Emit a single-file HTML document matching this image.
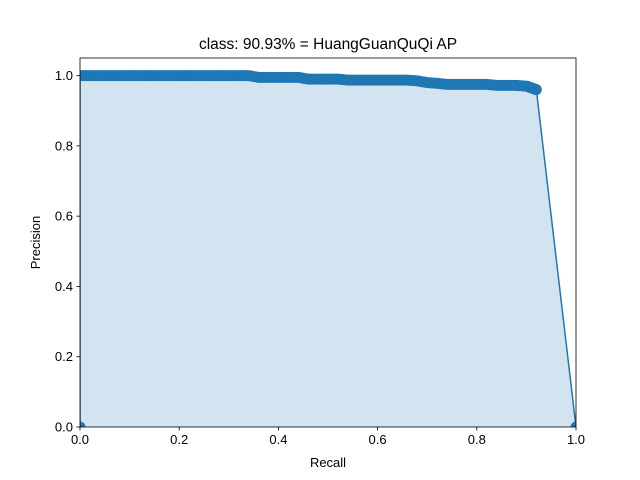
<!DOCTYPE html>
<html><head><meta charset="utf-8"><style>
body{margin:0;background:#fff;}
svg{display:block;font-family:"Liberation Sans","DejaVu Sans",sans-serif;}
</style></head><body>
<svg id="chart" width="640" height="480">
<defs><clipPath id="plotclip"><rect x="80" y="58" width="496" height="369"/></clipPath></defs>
<g id="plot" clip-path="url(#plotclip)"></g>
</svg>
<script>
const recall=[0,0,0.02,0.04,0.06,0.08,0.10,0.12,0.14,0.16,0.18,0.20,0.22,0.24,0.26,0.28,0.30,0.32,0.34,0.36,0.38,0.40,0.42,0.44,0.46,0.48,0.50,0.52,0.54,0.56,0.58,0.60,0.62,0.64,0.66,0.68,0.70,0.72,0.74,0.76,0.78,0.80,0.82,0.84,0.86,0.88,0.90,0.91,0.92,1.0];
const precision=[0,1,1,1,1,1,1,1,1,1,1,1,1,1,1,1,1,1,1,0.995,0.995,0.995,0.995,0.995,0.99,0.99,0.99,0.99,0.987,0.987,0.987,0.987,0.987,0.987,0.987,0.985,0.98,0.978,0.975,0.975,0.975,0.975,0.975,0.972,0.972,0.972,0.97,0.965,0.96,0];
const xTicks=[0,0.2,0.4,0.6,0.8,1.0];
const xTickLabels=["0.0","0.2","0.4","0.6","0.8","1.0"];
const yTicks=[0,0.2,0.4,0.6,0.8,1.0];
const yTickLabels=["0.0","0.2","0.4","0.6","0.8","1.0"];
const svg=document.getElementById('chart');
const plot=document.getElementById('plot');
const NS='http://www.w3.org/2000/svg';
const L=80,R=576,T=58,B=427;
const xs=v=>L+v*(R-L);
const ys=v=>B-v/1.05*(B-T);
function mk(tag,attrs,parent){const e=document.createElementNS(NS,tag);for(const k in attrs)e.setAttribute(k,attrs[k]);(parent||svg).appendChild(e);return e;}
let d='M'+xs(recall[0])+','+ys(0);
recall.forEach((r,i)=>{d+=' L'+xs(r)+','+ys(precision[i]);});
d+=' L'+xs(recall[recall.length-1])+','+ys(0)+' Z';
const fill=mk('path',{d:d,fill:'#1f77b4','fill-opacity':0.2,stroke:'none'},plot);


const pts=recall.map((r,i)=>xs(r)+','+ys(precision[i])).join(' ');
const line=mk('polyline',{points:pts,fill:'none',stroke:'#1f77b4','stroke-width':1.5},plot);


recall.forEach((r,i)=>{
  const c=mk('circle',{cx:xs(r),cy:ys(precision[i]),r:5.5,fill:'#1f77b4'},plot);
  
  
});
for(let i=1;i<recall.length-2;i++){
  for(const f of [0.25,0.5,0.75]){
    const c=mk('circle',{cx:xs(recall[i])+f*(xs(recall[i+1])-xs(recall[i])),cy:ys(precision[i])+f*(ys(precision[i+1])-ys(precision[i])),r:5.5,fill:'#1f77b4'},plot);
    
    
  }
}
const frame=mk('rect',{x:L,y:T,width:R-L,height:B-T,fill:'none',stroke:'#000','stroke-width':0.8});


xTicks.forEach((v,i)=>{
  const t=mk('line',{x1:xs(v),x2:xs(v),y1:B,y2:B+3.5,stroke:'#000','stroke-width':0.8});
  
  
  const tx=mk('text',{x:xs(v),y:B+17,'text-anchor':'middle','font-size':13,fill:'#000'});
  tx.textContent=xTickLabels[i];
  
  
});
yTicks.forEach((v,i)=>{
  const t=mk('line',{x1:L-3.5,x2:L,y1:ys(v),y2:ys(v),stroke:'#000','stroke-width':0.8});
  
  
  const tx=mk('text',{x:L-7,y:ys(v)+4.5,'text-anchor':'end','font-size':13,fill:'#000'});
  tx.textContent=yTickLabels[i];
  
  
});
const xt=mk('text',{x:(L+R)/2,y:467,'text-anchor':'middle','font-size':13});
xt.textContent='Recall';


const yt=mk('text',{x:40,y:(T+B)/2,'text-anchor':'middle','font-size':13,transform:'rotate(-90 40 '+((T+B)/2)+')'});
yt.textContent='Precision';


const title=mk('text',{x:(L+R)/2,y:49,'text-anchor':'middle','font-size':15.5});
title.textContent='class: 90.93% = HuangGuanQuQi AP';


</script>
</body></html>
